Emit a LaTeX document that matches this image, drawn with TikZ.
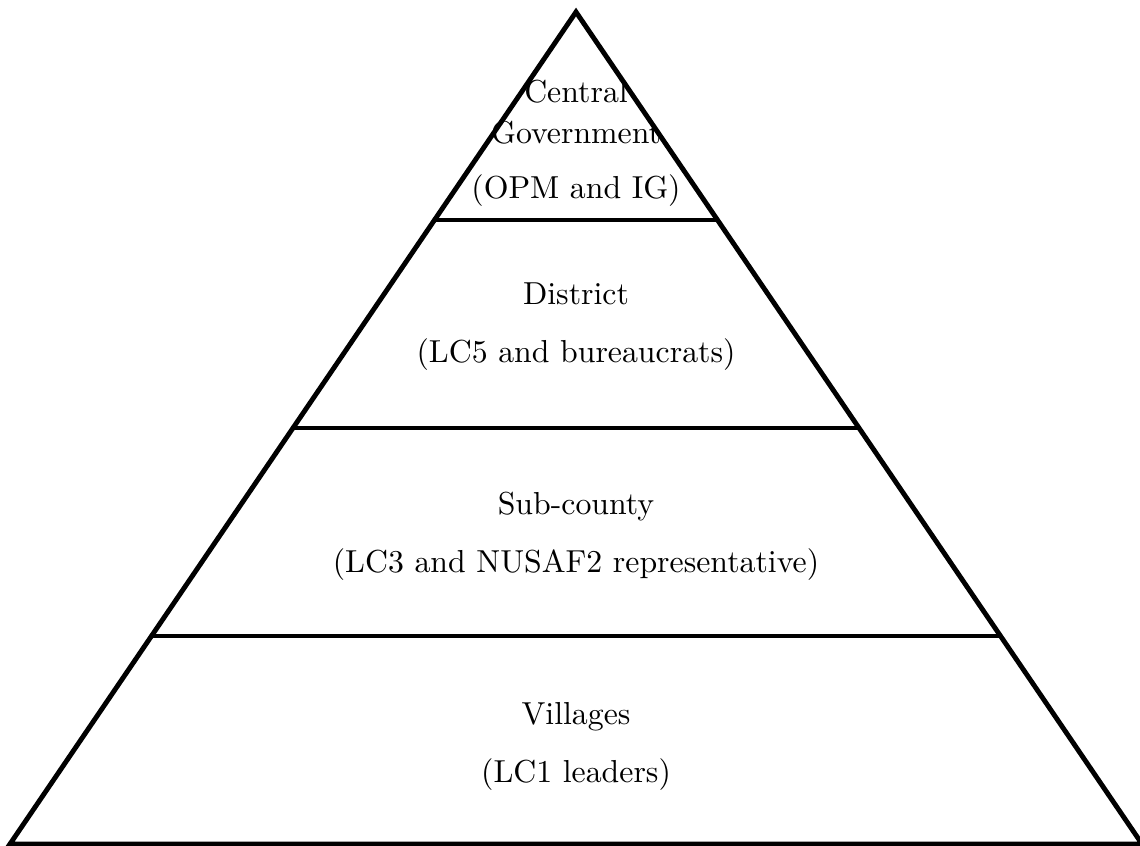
\documentclass[tikz,border=0pt]{standalone}
\usetikzlibrary{calc}
\tikzset{
  edge/.style = {line width=1.6pt},
  tiertext/.style = {anchor=base, inner sep=0pt, font=\fontsize{10.4}{12.5}\selectfont}
}

\begin{document}
\begin{tikzpicture}[x=0.327pt, y=-0.327pt]

    \useasboundingbox (0,0) rectangle (1140,846);

    %% Pyramid

    % Corners
    \coordinate (apex) at (576,12);
    \coordinate (left) at (10,844);
    \coordinate (right) at (1142,844);

    % Outline
    \draw[edge] (apex) -- (left) -- (right) -- cycle;

    % Tier borders
    \foreach \t in {0.25, 0.5, 0.75} {
      \draw[edge] ($(apex)!\t!(left)$) -- ($(apex)!\t!(right)$);
    }

    % Tiers, top to bottom
    \node[tiertext] (central) at (576,103) {Central};
    \node[tiertext] (government) at (576,144) {Government};
    \node[tiertext] (opm) at (576,199) {(OPM and IG)};

    \node[tiertext] (district) at (576,305) {District};
    \node[tiertext] (lcfive) at (576,363) {(LC5 and bureaucrats)};

    \node[tiertext] (subcounty) at (576,515) {Sub-county};
    \node[tiertext] (lcthree) at (576,573) {(LC3 and NUSAF2 representative)};

    \node[tiertext] (villages) at (576,725) {Villages};
    \node[tiertext] (lcone) at (576,783) {(LC1 leaders)};

\end{tikzpicture}
\end{document}
